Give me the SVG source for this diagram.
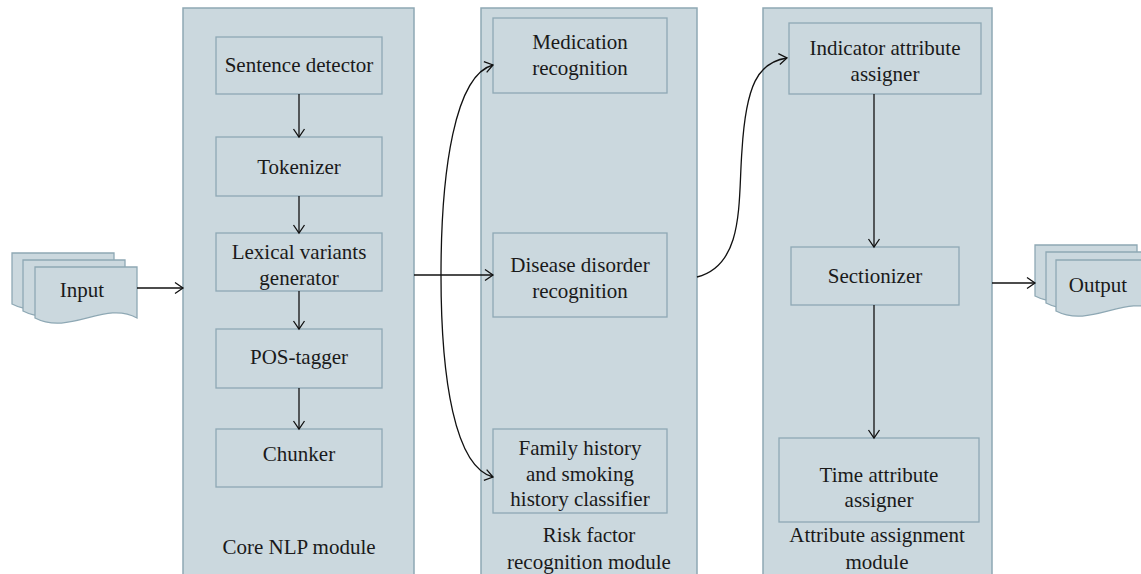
<svg xmlns="http://www.w3.org/2000/svg" width="1141" height="574" viewBox="0 0 1141 574">
<style>
.panel{fill:#cbd8de;stroke:#8ea8b4;stroke-width:1.5}
.box{fill:#cbd8de;stroke:#8ea8b4;stroke-width:1.3}
.page{fill:#cbd8de;stroke:#8ea8b4;stroke-width:1.3}
.t{font-family:"Liberation Serif","DejaVu Serif",serif;font-size:21px;fill:#1a1a1a;text-anchor:middle}
.c{fill:none;stroke:#111;stroke-width:1.3;marker-end:url(#ah)}
</style>
<defs>
<marker id="ah" markerUnits="userSpaceOnUse" markerWidth="12" markerHeight="14" viewBox="0 0 12 14" refX="10" refY="7" orient="auto">
<path d="M2,1.5 L10,7 L2,12.5" fill="none" stroke="#111" stroke-width="1.3"/>
</marker>
<path id="pg" d="M0,0 H102 V51 C70,33 35,69 0,51 Z"/>
</defs>
<rect width="1141" height="574" fill="#fff"/>
<g id="panel-core"><rect class="panel" x="183" y="8" width="231" height="580"/><text class="t" x="299" y="554">Core NLP module</text></g>
<g id="panel-risk"><rect class="panel" x="481" y="8" width="216" height="580"/><text class="t" x="589" y="542">Risk factor</text><text class="t" x="589" y="569">recognition module</text></g>
<g id="panel-attr"><rect class="panel" x="763" y="8" width="229" height="580"/><text class="t" x="877" y="542">Attribute assignment</text><text class="t" x="877" y="569">module</text></g>
<g id="input"><use href="#pg" class="page" x="12" y="253"/><use href="#pg" class="page" x="23" y="260"/><use href="#pg" class="page" x="35" y="267"/><text class="t" x="82" y="297">Input</text></g>
<g id="output"><use href="#pg" class="page" x="1035" y="245"/><use href="#pg" class="page" x="1046" y="252"/><use href="#pg" class="page" x="1056" y="260"/><text class="t" x="1098" y="292">Output</text></g>
<g id="sentence"><rect class="box" x="216" y="37" width="166" height="57"/><text class="t" x="299" y="72">Sentence detector</text></g>
<g id="tokenizer"><rect class="box" x="216" y="137" width="166" height="59"/><text class="t" x="299" y="174">Tokenizer</text></g>
<g id="lexical"><rect class="box" x="216" y="233" width="166" height="58"/><text class="t" x="299" y="259">Lexical variants</text><text class="t" x="299" y="285">generator</text></g>
<g id="pos"><rect class="box" x="216" y="329" width="166" height="59"/><text class="t" x="299" y="364">POS-tagger</text></g>
<g id="chunker"><rect class="box" x="216" y="429" width="166" height="58"/><text class="t" x="299" y="461">Chunker</text></g>
<g id="medication"><rect class="box" x="493" y="18" width="174" height="75"/><text class="t" x="580" y="49">Medication</text><text class="t" x="580" y="75">recognition</text></g>
<g id="disease"><rect class="box" x="493" y="233" width="174" height="84"/><text class="t" x="580" y="272">Disease disorder</text><text class="t" x="580" y="298">recognition</text></g>
<g id="family"><rect class="box" x="493" y="429" width="174" height="84"/><text class="t" x="580" y="455">Family history</text><text class="t" x="580" y="481">and smoking</text><text class="t" x="580" y="506">history classifier</text></g>
<g id="indicator"><rect class="box" x="789" y="23" width="192" height="71"/><text class="t" x="885" y="55">Indicator attribute</text><text class="t" x="885" y="81">assigner</text></g>
<g id="sectionizer"><rect class="box" x="791" y="247" width="168" height="58"/><text class="t" x="875" y="283">Sectionizer</text></g>
<g id="time"><rect class="box" x="779" y="438" width="200" height="84"/><text class="t" x="879" y="482">Time attribute</text><text class="t" x="879" y="507">assigner</text></g>
<g id="connectors">
<path class="c" d="M137,288 H183"/>
<path class="c" d="M299,94 V137"/>
<path class="c" d="M299,196 V233"/>
<path class="c" d="M299,291 V329"/>
<path class="c" d="M299,388 V429"/>
<path class="c" d="M414,275 H493"/>
<path class="c" d="M441,275 C441,170 455,75 493,65"/>
<path class="c" d="M441,275 C441,380 455,467 493,477"/>
<path class="c" d="M697,277 C745,265 738,200 742,150 C746,85 758,62 787,58"/>
<path class="c" d="M874,94 V247"/>
<path class="c" d="M874,305 V438"/>
<path class="c" d="M992,283 H1035"/>
</g>
</svg>
